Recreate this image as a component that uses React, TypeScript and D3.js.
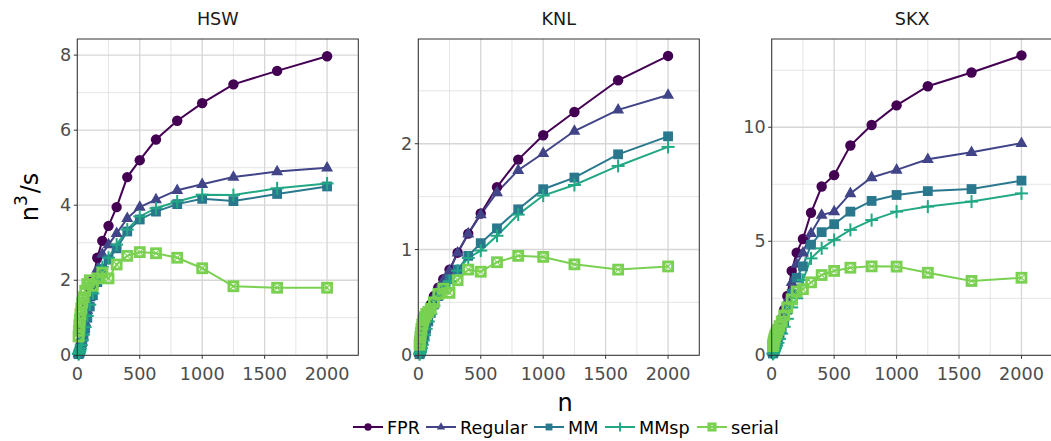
import React from 'react';
import * as d3 from 'd3';

// problem sizes
const nValues = [10, 12.5, 16, 20, 25, 31.5, 40, 50, 63, 80, 100, 125, 160, 200, 250, 315, 400, 500, 630, 800, 1000, 1250, 1600, 2000];

const seriesNames = ['FPR', 'Regular', 'MM', 'MMsp', 'serial'];
const seriesColors = ['#440154', '#414487', '#2A788E', '#22A884', '#7AD151'];

const panelNames = ['HSW', 'KNL', 'SKX'];
const panelYMax = [8.43, 2.99, 13.87];
const panelYTicks = [[0, 2, 4, 6, 8], [0, 1, 2], [0, 5, 10]];
const panelYMinor = [[1, 3, 5, 7], [0.5, 1.5, 2.5], [2.5, 7.5, 12.5]];
const xTicks = [0, 500, 1000, 1500, 2000];
const xMinor = [250, 750, 1250, 1750, 2250];

const hswFPR = [0.05, 0.08, 0.12, 0.18, 0.26, 0.38, 0.55, 0.75, 1.0, 1.35, 1.75, 2.0, 2.6, 3.05, 3.45, 3.95, 4.75, 5.2, 5.75, 6.25, 6.72, 7.22, 7.58, 7.97];
const hswRegular = [0.04, 0.06, 0.1, 0.15, 0.22, 0.32, 0.47, 0.65, 0.88, 1.2, 1.55, 1.9, 2.3, 2.7, 2.95, 3.25, 3.65, 3.95, 4.15, 4.4, 4.56, 4.75, 4.9, 5.0];
const hswMM = [0.03, 0.05, 0.08, 0.12, 0.18, 0.26, 0.38, 0.52, 0.72, 1.0, 1.3, 1.6, 1.95, 2.3, 2.55, 2.85, 3.3, 3.62, 3.83, 4.03, 4.17, 4.11, 4.3, 4.5];
const hswMMsp = [0.03, 0.05, 0.08, 0.12, 0.18, 0.27, 0.4, 0.55, 0.75, 1.05, 1.35, 1.65, 2.0, 2.35, 2.6, 2.95, 3.35, 3.7, 3.92, 4.1, 4.28, 4.27, 4.45, 4.58];
const hswSerial = [0.5, 0.65, 0.8, 0.95, 1.1, 1.25, 1.4, 1.55, 1.72, 1.9, 2.0, 1.85, 2.05, 2.2, 2.05, 2.42, 2.65, 2.75, 2.72, 2.6, 2.32, 1.84, 1.8, 1.8];

const knlFPR = [0.02, 0.03, 0.05, 0.07, 0.1, 0.14, 0.19, 0.25, 0.32, 0.4, 0.48, 0.56, 0.64, 0.72, 0.81, 0.97, 1.15, 1.34, 1.59, 1.85, 2.08, 2.3, 2.6, 2.83];
const knlRegular = [0.02, 0.03, 0.05, 0.07, 0.1, 0.14, 0.19, 0.25, 0.32, 0.4, 0.47, 0.55, 0.63, 0.71, 0.8, 0.97, 1.15, 1.33, 1.54, 1.75, 1.91, 2.12, 2.32, 2.46];
const knlMM = [0.01, 0.02, 0.03, 0.05, 0.07, 0.1, 0.14, 0.19, 0.25, 0.32, 0.4, 0.48, 0.56, 0.64, 0.72, 0.81, 0.94, 1.06, 1.2, 1.38, 1.57, 1.68, 1.9, 2.07];
const knlMMsp = [0.01, 0.02, 0.03, 0.05, 0.07, 0.1, 0.14, 0.19, 0.25, 0.32, 0.39, 0.47, 0.55, 0.63, 0.7, 0.8, 0.92, 0.99, 1.13, 1.33, 1.51, 1.61, 1.79, 1.97];
const knlSerial = [0.1, 0.13, 0.17, 0.21, 0.25, 0.29, 0.33, 0.36, 0.39, 0.41, 0.44, 0.5, 0.58, 0.63, 0.59, 0.71, 0.81, 0.79, 0.88, 0.94, 0.93, 0.86, 0.81, 0.84];

const skxFPR = [0.15, 0.2, 0.28, 0.38, 0.5, 0.65, 0.85, 1.05, 1.3, 1.6, 2.0, 2.6, 3.7, 4.5, 5.1, 6.25, 7.4, 7.9, 9.2, 10.1, 10.96, 11.8, 12.4, 13.15];
const skxRegular = [0.12, 0.17, 0.24, 0.32, 0.42, 0.55, 0.72, 0.92, 1.15, 1.45, 1.85, 2.4, 3.2, 4.0, 4.5, 5.35, 6.15, 6.3, 7.1, 7.8, 8.13, 8.6, 8.9, 9.3];
const skxMM = [0.08, 0.12, 0.17, 0.23, 0.3, 0.4, 0.52, 0.68, 0.88, 1.15, 1.5, 2.0, 2.7, 3.4, 3.9, 4.85, 5.4, 5.75, 6.3, 6.77, 7.03, 7.2, 7.29, 7.66];
const skxMMsp = [0.06, 0.09, 0.13, 0.18, 0.24, 0.32, 0.42, 0.55, 0.72, 0.95, 1.25, 1.6, 2.1, 2.5, 3.3, 4.25, 4.69, 5.06, 5.5, 5.93, 6.3, 6.52, 6.74, 7.1];
const skxSerial = [0.4, 0.5, 0.6, 0.7, 0.8, 0.9, 1.0, 1.12, 1.28, 1.48, 1.75, 2.1, 2.45, 2.8, 2.9, 3.2, 3.52, 3.7, 3.84, 3.9, 3.89, 3.62, 3.26, 3.4];

const panelSeries = [
    [hswFPR, hswRegular, hswMM, hswMMsp, hswSerial],
    [knlFPR, knlRegular, knlMM, knlMMsp, knlSerial],
    [skxFPR, skxRegular, skxMM, skxMMsp, skxSerial],
];

const W = 1051;
const H = 441;
const panelLeft = [77.3, 418.3, 771.7];
const panelW = 281;
const panelTop = 39;
const panelBottom = 355.3;
const font = 'DejaVu Sans, sans-serif';

function Marker({ kind, x, y, color, s = 1 }) {
    if (kind === 0) {
        return <circle cx={x} cy={y} r={5.2 * s} fill={color} />;
    }
    if (kind === 1) {
        const r = 6.8 * s;
        const pts = [[x, y - r], [x + r * 0.88, y + r * 0.55], [x - r * 0.88, y + r * 0.55]];
        return <polygon points={pts.map(p => p.join(',')).join(' ')} fill={color} />;
    }
    if (kind === 2) {
        const a = 4.9 * s;
        return <rect x={x - a} y={y - a} width={2 * a} height={2 * a} fill={color} />;
    }
    if (kind === 3) {
        const a = 6.5 * s;
        return (
            <g stroke={color} strokeWidth={2}>
                <line x1={x - a} x2={x + a} y1={y} y2={y} />
                <line x1={x} x2={x} y1={y - a} y2={y + a} />
            </g>
        );
    }
    const a = 4.5 * s;
    return (
        <g stroke={color} fill="none">
            <rect x={x - a} y={y - a} width={2 * a} height={2 * a} strokeWidth={2.8} />
            <line x1={x - a} x2={x + a} y1={y - a} y2={y + a} strokeWidth={1.1} />
            <line x1={x - a} x2={x + a} y1={y + a} y2={y - a} strokeWidth={1.1} />
        </g>
    );
}

function Panel({ idx }) {
    const left = panelLeft[idx];
    const x = d3.scaleLinear().domain([0, 2250]).range([left, left + panelW]);
    const y = d3.scaleLinear().domain([0, panelYMax[idx]]).range([panelBottom, panelTop]);
    const line = d3.line<number>()
        .x((d, i) => x(nValues[i]))
        .y(d => y(d));
    const series = panelSeries[idx];
    const cx = left + panelW / 2;

    return (
        <g>
            <text x={cx} y={25} textAnchor="middle" fontSize={17.6} fill="#1a1a1a" fontFamily={font}>{panelNames[idx]}</text>
            <rect x={left} y={panelTop} width={panelW} height={panelBottom - panelTop} fill="white" />
            {panelYMinor[idx].filter(v => v < panelYMax[idx]).map(v => (
                <line key={'ym' + v} x1={left} x2={left + panelW} y1={y(v)} y2={y(v)} stroke="#dedede" strokeWidth={0.8} />
            ))}
            {xMinor.map(v => (
                <line key={'xm' + v} x1={x(v)} x2={x(v)} y1={panelTop} y2={panelBottom} stroke="#dedede" strokeWidth={0.8} />
            ))}
            {panelYTicks[idx].map(v => (
                <line key={'y' + v} x1={left} x2={left + panelW} y1={y(v)} y2={y(v)} stroke="#d6d6d6" strokeWidth={1.3} />
            ))}
            {xTicks.map(v => (
                <line key={'x' + v} x1={x(v)} x2={x(v)} y1={panelTop} y2={panelBottom} stroke="#d6d6d6" strokeWidth={1.3} />
            ))}
            {series.map((vals, s) => (
                <path key={'l' + s} d={line(vals)} fill="none" stroke={seriesColors[s]} strokeWidth={2} />
            ))}
            {series.map((vals, s) => (
                <g key={'p' + s}>
                    {vals.map((v, i) => (
                        <Marker key={i} kind={s} x={x(nValues[i])} y={y(v)} color={seriesColors[s]} />
                    ))}
                </g>
            ))}
            <rect x={left} y={panelTop} width={panelW} height={panelBottom - panelTop} fill="none" stroke="#333333" strokeWidth={1} />
            {panelYTicks[idx].map(v => (
                <g key={'yt' + v}>
                    <line x1={left - 3.5} x2={left} y1={y(v)} y2={y(v)} stroke="#333333" strokeWidth={1} />
                    <text x={left - 6} y={y(v)} dy="0.35em" textAnchor="end" fontSize={17.6} fill="#4d4d4d" fontFamily={font}>{v}</text>
                </g>
            ))}
            {xTicks.map(v => (
                <g key={'xt' + v}>
                    <line x1={x(v)} x2={x(v)} y1={panelBottom} y2={panelBottom + 3.5} stroke="#333333" strokeWidth={1} />
                    <text x={x(v)} y={380} textAnchor="middle" fontSize={17.6} fill="#4d4d4d" fontFamily={font}>{v}</text>
                </g>
            ))}
        </g>
    );
}

const legendKeyX = [353, 426, 534, 605, 697];

export default function App() {
    return (
        <div style={{ position: 'absolute', left: 0, top: 0 }}>
            <svg width={W} height={H} style={{ display: 'block' }}>
                <rect width={W} height={H} fill="white" />
                {panelNames.map((p, i) => <Panel key={p} idx={i} />)}
                <text transform="translate(38,197) rotate(-90)" textAnchor="middle" fontSize={24} fill="#000" fontFamily={font}>
                    n<tspan dy={-11} fontSize={17}>3</tspan><tspan dy={11} dx={2}>/s</tspan>
                </text>
                <text x={565} y={411} textAnchor="middle" fontSize={24} fill="#000" fontFamily={font}>n</text>
                {seriesNames.map((name, s) => (
                    <g key={name}>
                        <line x1={legendKeyX[s]} x2={legendKeyX[s] + 30} y1={427} y2={427} stroke={seriesColors[s]} strokeWidth={2} />
                        <Marker kind={s} x={legendKeyX[s] + 15} y={427} color={seriesColors[s]} s={0.7} />
                        <text x={legendKeyX[s] + 34} y={433.5} fontSize={17.6} fill="#000" fontFamily={font}>{name}</text>
                    </g>
                ))}
            </svg>
        </div>
    );
}
